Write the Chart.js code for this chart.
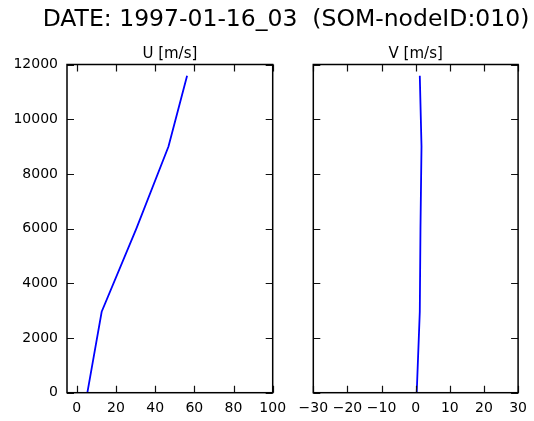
<!DOCTYPE html>
<html><head><meta charset="utf-8">
<script src="https://cdn.jsdelivr.net/npm/chart.js@4/dist/chart.umd.min.js"></script>
<style>
html,body{margin:0;padding:0;background:#fff;}
#wrap{position:relative;width:534px;height:421px;background:#fff;}
canvas{position:absolute;left:0;top:0;}
</style></head><body>
<div id="wrap"><canvas id="cu" width="534" height="421"></canvas><canvas id="cv" width="534" height="421"></canvas></div>
<script>
const chartTitle = 'DATE: 1997-01-16_03  (SOM-nodeID:010)';
const panelTitles = ['U [m/s]', 'V [m/s]'];
const heights = [0, 2960, 6000, 9000, 11590];
const uValues = [5.4, 12.7, 30.4, 46.8, 56.3];
const vValues = [0.3, 1.2, 1.4, 1.7, 1.2];
const yTicks = [0, 2000, 4000, 6000, 8000, 10000, 12000];
const uTicks = [0, 20, 40, 60, 80, 100];
const vTicks = [-30, -20, -10, 0, 10, 20, 30];

const FONT = 'DejaVu Sans';
const TICKLEN = 7;
const fmt = v => String(v).replace('-', '\u2212');

function framePlugin(title, mainTitle) {
  return {
    id: 'frame',
    afterDraw(chart) {
      const ctx = chart.ctx, a = chart.chartArea;
      const xs = chart.scales.x, ys = chart.scales.y;
      ctx.save();
      ctx.strokeStyle = '#111';
      ctx.lineWidth = 1.2;
      ctx.beginPath();
      const xt = chart.options.plugins.frame.xTicks;
      xt.forEach(v => {
        const px = Math.round(xs.getPixelForValue(v)) + 0.5;
        ctx.moveTo(px, a.bottom); ctx.lineTo(px, a.bottom - TICKLEN);
        ctx.moveTo(px, a.top); ctx.lineTo(px, a.top + TICKLEN);
      });
      yTicks.forEach(v => {
        const py = Math.round(ys.getPixelForValue(v)) + 0.5;
        ctx.moveTo(a.left, py); ctx.lineTo(a.left + TICKLEN, py);
        ctx.moveTo(a.right, py); ctx.lineTo(a.right - TICKLEN, py);
      });
      ctx.stroke();
      ctx.strokeStyle = '#000';
      ctx.lineWidth = 1.5;
      ctx.strokeRect(a.left, a.top, a.right - a.left, a.bottom - a.top);
      ctx.fillStyle = '#000';
      ctx.textAlign = 'center';
      ctx.textBaseline = 'alphabetic';
      ctx.font = '15px "' + FONT + '"';
      ctx.fillText(title, (a.left + a.right) / 2, a.top - 7);
      if (mainTitle) {
        ctx.font = '23.5px "' + FONT + '"';
        ctx.fillText(mainTitle, 286, 26);
      }
      ctx.restore();
    }
  };
}

function makeChart(id, values, xMin, xMax, xTicks, pad, showY, title, mainTitle) {
  return new Chart(document.getElementById(id), {
    type: 'scatter',
    data: {
      datasets: [{
        data: heights.map((h, i) => ({x: values[i], y: h})),
        showLine: true,
        borderColor: '#0000ff',
        borderWidth: 1.8,
        pointRadius: 0,
        tension: 0,
        fill: false
      }]
    },
    options: {
      responsive: false,
      animation: false,
      devicePixelRatio: 1,
      layout: {padding: pad},
      plugins: {legend: {display: false}, tooltip: {enabled: false}, frame: {xTicks: xTicks}},
      scales: {
        x: {
          type: 'linear', min: xMin, max: xMax,
          afterBuildTicks: s => { s.ticks = xTicks.map(v => ({value: v})); },
          afterFit: s => { s.height = 28.3; },
          grid: {display: false, drawTicks: false},
          border: {display: false},
          ticks: {color: '#000', font: {family: FONT, size: 14}, padding: 7, maxRotation: 0, autoSkip: false, callback: v => fmt(v)}
        },
        y: {
          type: 'linear', min: 0, max: 12000,
          afterBuildTicks: s => { s.ticks = yTicks.map(v => ({value: v})); },
          afterFit: s => { s.width = showY ? 67 : 0; },
          grid: {display: false, drawTicks: false},
          border: {display: false},
          ticks: {display: showY, color: '#000', font: {family: FONT, size: 14}, padding: 9, autoSkip: false, callback: v => String(v)}
        }
      }
    },
    plugins: [framePlugin(title, mainTitle)]
  });
}

makeChart('cu', uValues, -5, 100, uTicks, {left: 0, top: 64.5, right: 261.3, bottom: 0}, true, panelTitles[0], chartTitle);
makeChart('cv', vValues, -30, 30, vTicks, {left: 313.3, top: 64.5, right: 15, bottom: 0}, false, panelTitles[1], null);
</script>
</body></html>
